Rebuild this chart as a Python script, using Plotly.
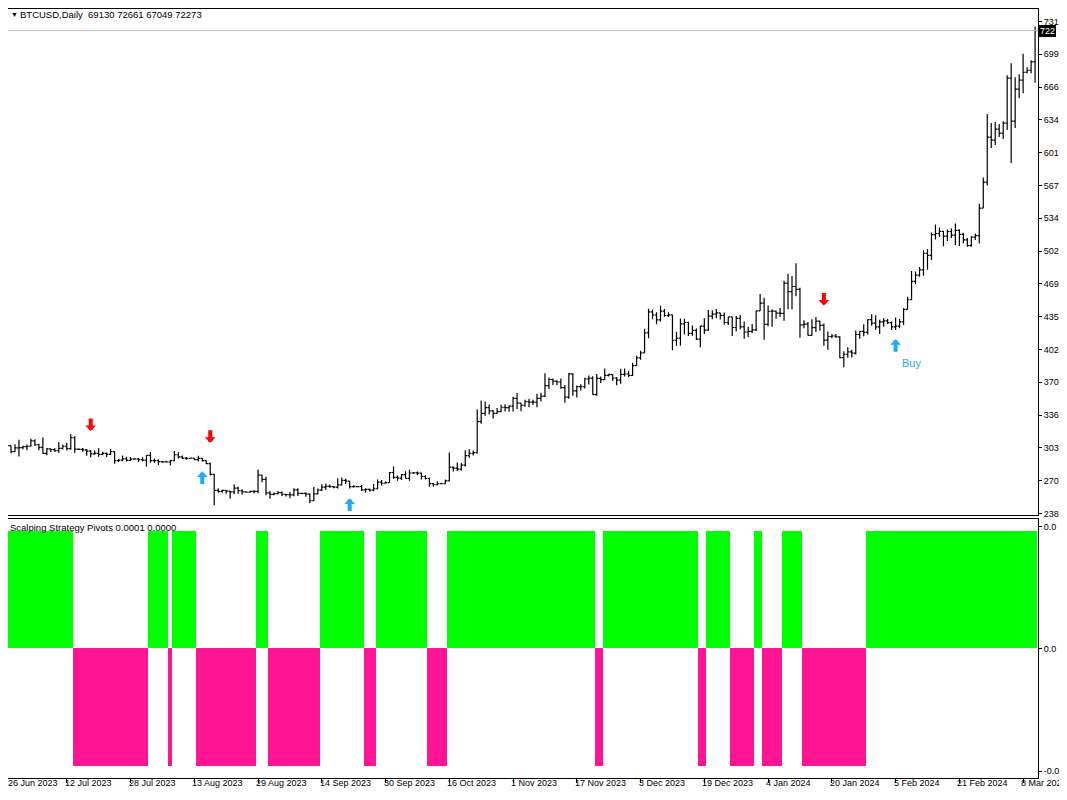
import pandas as pd
import plotly.graph_objects as go

# --- daily BTCUSD bars, 26 Jun 2023 .. 11 Mar 2024
dates = pd.date_range('2023-06-26', '2024-03-11', freq='D')

opens = [
    # Jun
    30470, 30270, 30690, 30080, 30450,
    # Jul
    30480, 30590, 30620, 31160, 30770, 30510, 29900, 30350, 30290, 30170, 30410,
    30620, 30390, 31470, 30330, 30300, 30250, 30140, 29860, 29910, 29800, 29910,
    29800, 30090, 29180, 29230, 29350, 29210, 29320, 29360, 29280,
    # Aug
    29230, 29700, 29180, 29180, 29070, 29050, 29040, 29180, 29770, 29560, 29430,
    29400, 29420, 29280, 29410, 29170, 28880, 27800, 26200, 26100, 26190, 26120,
    26050, 26430, 26160, 26050, 26010, 26090, 26100, 27720, 27300,
    # Sep
    25940, 25800, 25870, 25970, 25810, 25780, 25750, 26240, 25900, 25890, 25830,
    25160, 25840, 26220, 26530, 26600, 26570, 26530, 26750, 27210, 27130, 26570,
    26580, 26580, 26250, 26300, 26220, 26360, 27030, 26910,
    # Oct
    26970, 27990, 27500, 27430, 27780, 27410, 27940, 27960, 27930, 27590, 27390,
    26870, 26760, 26860, 26860, 27160, 28520, 28420, 28330, 28720, 29680, 29920,
    29990, 33090, 33920, 34500, 34160, 33910, 34090, 34530, 34500,
    # Nov
    34650, 35420, 34940, 34730, 35080, 35050, 35040, 35420, 35640, 36690, 37310,
    37140, 37060, 36500, 35550, 37880, 36160, 36590, 36580, 37360, 37450, 35800,
    37420, 37290, 37720, 37790, 37460, 37250, 37830, 37860,
    # Dec
    37720, 38690, 39470, 39980, 41980, 44080, 43770, 43290, 44170, 43720, 43790,
    41240, 41450, 42890, 43020, 41930, 42240, 41360, 42660, 42260, 43660, 43860,
    43990, 43740, 43020, 43580, 42520, 43440, 42580, 42070, 42140,
    # Jan
    42280, 44180, 44960, 42840, 44150, 44160, 43970, 43930, 46970, 46110, 46630,
    46340, 42780, 42850, 41730, 42510, 43150, 42740, 41260, 41620, 41670, 41580,
    39510, 39840, 40080, 39950, 41820, 42130, 42030, 43300, 42950,
    # Feb
    42580, 43080, 43190, 43000, 42580, 42660, 43090, 44340, 45300, 47150, 47770,
    48300, 49960, 49740, 51830, 51940, 52150, 51670, 52140, 51770, 52260, 51850,
    51300, 50730, 51570, 51730, 54480, 57080, 61600,
    # Mar
    61300, 62400, 62000, 63000, 67500, 63200, 66400, 67300, 68100, 68300, 69130,
]

highs = [
    30660, 31000, 30700, 30820, 31260,
    30660, 30790, 31380, 31330, 30880, 31500, 30450, 30380, 30430, 31030, 30800,
    30980, 31810, 31630, 30390, 30450, 30340, 30240, 30190, 30420, 30060, 29990,
    30350, 30100, 29350, 29690, 29570, 29530, 29410, 29450, 29520,
    29730, 30050, 29400, 29310, 29100, 29170, 29250, 30150, 30030, 29690, 29540,
    29460, 29440, 29660, 29440, 29220, 29000, 27850, 26400, 26270, 26220, 26130,
    26800, 26550, 26310, 26100, 26170, 26210, 28300, 27750, 27570,
    26130, 25980, 26130, 26090, 25860, 26030, 26420, 26410, 25940, 26000, 25880,
    26540, 26390, 26800, 26890, 26780, 26620, 27410, 27480, 27370, 27150, 26720,
    26620, 26730, 26410, 26380, 26830, 27300, 27240, 27090,
    28050, 28590, 27680, 27830, 28120, 28270, 28040, 28100, 27990, 27720, 27480,
    26940, 27100, 26970, 27290, 30000, 28600, 28990, 28940, 30210, 30330, 30200,
    34300, 35200, 35100, 34800, 34240, 34460, 34770, 34840, 34720,
    35580, 35960, 34940, 35270, 35380, 35280, 35880, 35990, 37930, 37520, 37400,
    37230, 37410, 36750, 37950, 37930, 36710, 36840, 37490, 37720, 37640, 37850,
    37620, 38410, 37880, 37820, 37570, 38380, 38420, 38150,
    38980, 39700, 40200, 42400, 44410, 44300, 44050, 44700, 44370, 44040, 43800,
    42100, 43430, 43400, 43090, 42720, 42430, 42700, 43450, 44280, 44240, 44370,
    44000, 44030, 43590, 43600, 43680, 43800, 43110, 42600, 42880,
    44180, 45880, 45500, 44730, 44340, 44220, 44480, 47200, 47900, 47690, 48970,
    46500, 43240, 43070, 43340, 43570, 43200, 42930, 42130, 41850, 41870, 41650,
    40130, 40540, 40280, 42210, 42200, 42840, 43310, 43850, 43740,
    43290, 43450, 43370, 43120, 43520, 43380, 44450, 45590, 48170, 48130, 48590,
    50270, 50370, 52040, 52830, 52550, 52180, 52350, 52470, 52950, 52370, 52010,
    51500, 51680, 51950, 54910, 57540, 63910, 63000,
    63100, 62900, 63200, 67800, 69000, 67600, 67900, 69950, 68600, 69300, 72661,
]

lows = [
    29930, 30230, 29920, 30050, 29600,
    30330, 30230, 30580, 30650, 30220, 29860, 29720, 30050, 30050, 29960, 30290,
    30200, 30260, 29940, 30250, 30080, 29660, 29520, 29770, 29560, 29720, 29530,
    29740, 28860, 29030, 29110, 29100, 29130, 29260, 29040, 29110,
    28600, 28960, 28960, 28750, 28960, 28980, 28700, 29110, 29380, 29330, 29270,
    29360, 29260, 29100, 29080, 28850, 27700, 24700, 25950, 25960, 25860, 25360,
    25800, 25860, 25780, 25980, 25970, 25880, 25920, 27000, 25700,
    25350, 25720, 25780, 25630, 25580, 25400, 25620, 25630, 25810, 25560, 24900,
    25130, 25780, 26130, 26230, 26470, 26410, 26390, 26680, 26840, 26380, 26490,
    26520, 26140, 25990, 26090, 26110, 26340, 26690, 26890,
    26950, 27330, 27160, 27250, 27380, 27170, 27860, 27710, 27300, 27300, 26560,
    26550, 26690, 26800, 26810, 27120, 28100, 28150, 28180, 28600, 29460, 29690,
    29890, 32880, 33670, 33800, 33400, 33880, 34050, 34100, 34070,
    34100, 34340, 34120, 34580, 34540, 34750, 34530, 35110, 35550, 36350, 36760,
    36720, 36370, 34980, 35370, 35670, 35510, 36200, 36400, 36800, 35780, 35690,
    36950, 37250, 37600, 37180, 36730, 36880, 37600, 37560,
    37650, 38650, 39280, 39980, 41430, 43350, 42840, 43110, 43590, 43570, 40250,
    40700, 40680, 41820, 41680, 41700, 41270, 40530, 41870, 42200, 43350, 43450,
    43310, 42830, 42780, 41660, 42110, 42340, 41400, 41560, 41970,
    42170, 44170, 41300, 42650, 42600, 43400, 43580, 43200, 44360, 44350, 45650,
    41500, 42450, 41720, 41720, 42060, 42200, 40680, 40280, 41450, 41500, 39430,
    38540, 39500, 39520, 39820, 41400, 41640, 41810, 42690, 42300,
    41880, 42590, 42880, 42270, 42260, 42450, 42780, 44330, 45250, 46850, 47600,
    47710, 48300, 49290, 51330, 51580, 50670, 51200, 51500, 50790, 50680, 50960,
    50600, 50600, 51290, 50930, 54470, 56740, 60500,
    60800, 61600, 61400, 62300, 59000, 62500, 65500, 66000, 68000, 68000, 67049,
]

closes = [
    30270, 30690, 30080, 30450, 30480,
    30590, 30620, 31160, 30770, 30510, 29900, 30350, 30290, 30170, 30410, 30620,
    30390, 31470, 30330, 30300, 30250, 30140, 29860, 29910, 29800, 29910, 29800,
    30090, 29180, 29230, 29350, 29210, 29320, 29360, 29280, 29230,
    29700, 29180, 29180, 29070, 29050, 29040, 29180, 29770, 29560, 29430, 29400,
    29420, 29280, 29410, 29170, 28880, 27800, 26200, 26100, 26190, 26120, 26050,
    26430, 26160, 26050, 26010, 26090, 26100, 27720, 27300, 25940,
    25800, 25870, 25970, 25810, 25780, 25750, 26240, 25900, 25890, 25830, 25160,
    25840, 26220, 26530, 26600, 26570, 26530, 26750, 27210, 27130, 26570, 26580,
    26580, 26250, 26300, 26220, 26360, 27030, 26910, 26970,
    27990, 27500, 27430, 27780, 27410, 27940, 27960, 27930, 27590, 27390, 26870,
    26760, 26860, 26860, 27160, 28520, 28420, 28330, 28720, 29680, 29920, 29990,
    33090, 33920, 34500, 34160, 33910, 34090, 34530, 34500, 34650,
    35420, 34940, 34730, 35080, 35050, 35040, 35420, 35640, 36690, 37310, 37140,
    37060, 36500, 35550, 37880, 36160, 36590, 36580, 37360, 37450, 35800, 37420,
    37290, 37720, 37790, 37460, 37250, 37830, 37860, 37720,
    38690, 39470, 39980, 41980, 44080, 43770, 43290, 44170, 43720, 43790, 41240,
    41450, 42890, 43020, 41930, 42240, 41360, 42660, 42260, 43660, 43860, 43990,
    43740, 43020, 43580, 42520, 43440, 42580, 42070, 42140, 42280,
    44180, 44960, 42840, 44150, 44160, 43970, 43930, 46970, 46110, 46630, 46340,
    42780, 42850, 41730, 42510, 43150, 42740, 41260, 41620, 41670, 41580, 39510,
    39840, 40080, 39950, 41820, 42130, 42030, 43300, 42950, 42580,
    43080, 43190, 43000, 42580, 42660, 43090, 44340, 45300, 47150, 47770, 48300,
    49960, 49740, 51830, 51940, 52150, 51670, 52140, 51770, 52260, 51850, 51300,
    50730, 51570, 51730, 54480, 57080, 61600, 61300,
    62400, 62000, 63000, 67500, 63200, 66400, 67300, 68100, 68300, 69130, 72273,
]

# signal arrows (tip position)
sell_dates = ['2023-07-18', '2023-08-17', '2024-01-18']
sell_prices = [32160, 30970, 44730]
buy_dates = ['2023-08-15', '2023-09-21', '2024-02-05']
buy_prices = [28080, 25380, 41340]
buy_label_date = '2024-02-05'
buy_label_price = 38940

# indicator: run lengths of alternating states, starting with +1 (green)
pivot_runs = [18, 19, 5, 1, 6, 15, 3, 13, 11, 3, 13, 5, 37, 2, 24, 2, 6, 6, 2, 5, 5, 16, 43]
pivot_level = 0.0001

# axis labels (as much of each label as the window shows)
price_ticks = [73190, 69903, 66616, 63329, 60042, 56755, 53468, 50181,
               46894, 43607, 40320, 37033, 33746, 30459, 27172, 23885]
price_tick_text = ['731', '699', '666', '634', '601', '567', '534', '502',
                   '469', '435', '402', '370', '336', '303', '270', '238']
pivot_ticks = [0.000104, 0, -0.000104]
pivot_tick_text = ['0.0', '0.0', '-0.0']
last_price = 72273
last_price_text = '722'
date_ticks = ['2023-06-26', '2023-07-12', '2023-07-28', '2023-08-13', '2023-08-29',
              '2023-09-14', '2023-09-30', '2023-10-16', '2023-11-01', '2023-11-17',
              '2023-12-03', '2023-12-19', '2024-01-04', '2024-01-20', '2024-02-05',
              '2024-02-21', '2024-03-08']
date_tick_text = ['26 Jun 2023', '12 Jul 2023', '28 Jul 2023', '13 Aug 2023', '29 Aug 2023',
                  '14 Sep 2023', '30 Sep 2023', '16 Oct 2023', '1 Nov 2023', '17 Nov 2023',
                  '3 Dec 2023', '19 Dec 2023', '4 Jan 2024', '20 Jan 2024', '5 Feb 2024',
                  '21 Feb 2024', '8 Mar 202']

# --- expand indicator runs
pivot_vals, pivot_cols = [], []
for k, n in enumerate(pivot_runs):
    up = (k % 2 == 0)
    pivot_vals += [pivot_level if up else -pivot_level] * n
    pivot_cols += ['#00FF00' if up else '#FF1493'] * n

# page body keeps an 8px margin, so the figure is sized to fit inside it
W, H = 1051, 784
FONT = 'Liberation Sans, Arial, sans-serif'
AXIS_X = 1034          # right price scale, px from left
MAIN = (0, 509)        # main window rows (px)
SUB = (513, 773)       # indicator window rows (px)


def py(px):
    # pixel row -> paper y
    return 1 - px / H


fig = go.Figure()

fig.add_trace(go.Ohlc(
    x=dates, open=opens, high=highs, low=lows, close=closes,
    increasing_line_color='black', decreasing_line_color='black',
    line_width=1.2, tickwidth=0.45, hoverinfo='skip',
    xaxis='x', yaxis='y'))

fig.add_trace(go.Bar(
    x=dates, y=pivot_vals, marker_color=pivot_cols, marker_line_width=0,
    width=86400000, hoverinfo='skip', xaxis='x2', yaxis='y2'))

x_range = ['2023-06-27 06:00', '2024-03-11 18:00']
common_x = dict(type='date', range=x_range, domain=[0, AXIS_X / W], showgrid=False,
                zeroline=False, showline=True, linecolor='black', linewidth=1, mirror=True,
                fixedrange=True)
common_y = dict(side='right', ticks='outside', ticklen=3, tickcolor='black',
                showgrid=False, zeroline=False, showline=True, linecolor='black',
                mirror=False, tickfont=dict(size=9), fixedrange=True)

fig.update_layout(
    width=W, height=H,
    margin=dict(l=0, r=0, t=0, b=0),
    paper_bgcolor='white', plot_bgcolor='white',
    showlegend=False,
    dragmode=False, hovermode=False,
    font=dict(family=FONT, size=9.5, color='black'),
    bargap=0,
    xaxis=dict(**common_x, anchor='y', showticklabels=False, ticks='',
               rangeslider=dict(visible=False)),
    yaxis=dict(**common_y, domain=[py(MAIN[1]), py(MAIN[0])], range=[23690, 74436],
               anchor='x', tickvals=price_ticks, ticktext=price_tick_text),
    xaxis2=dict(**common_x, anchor='y2', matches='x', showticklabels=False,
                tickvals=date_ticks, ticks='outside', ticklen=4, tickcolor='black'),
    yaxis2=dict(**common_y, domain=[py(SUB[1]), py(SUB[0])], range=[-0.00011, 0.00011],
                anchor='x2', tickvals=pivot_ticks, ticktext=pivot_tick_text),
)

# bid line + price box
fig.add_shape(type='line', xref='x domain', yref='y', x0=0, x1=1,
              y0=last_price, y1=last_price, line=dict(color='#C0C0C0', width=1))
fig.add_annotation(xref='paper', yref='y', x=(AXIS_X + 1) / W, y=last_price,
                   text=last_price_text, showarrow=False, xanchor='left', yanchor='middle',
                   bgcolor='black', font=dict(color='white', size=9), borderpad=1,
                   borderwidth=0)

# signal arrows
for d, p in zip(sell_dates, sell_prices):
    fig.add_annotation(x=d, y=p, xref='x', yref='y', text='', showarrow=True,
                       arrowhead=1, arrowsize=0.45, arrowwidth=4, arrowcolor='#FF0000',
                       ax=0, ay=-14)
for d, p in zip(buy_dates, buy_prices):
    fig.add_annotation(x=d, y=p, xref='x', yref='y', text='', showarrow=True,
                       arrowhead=1, arrowsize=0.45, arrowwidth=4, arrowcolor='#1EAAFF',
                       ax=0, ay=14)
fig.add_annotation(x=buy_label_date, y=buy_label_price, xref='x', yref='y', text='Buy',
                   showarrow=False, xanchor='left', yanchor='middle', xshift=4,
                   font=dict(color='#1EAAFF', size=11))

# window headers
fig.add_annotation(xref='paper', yref='paper', x=1 / W, y=py(6), text='\u25BC',
                   showarrow=False, xanchor='left', yanchor='middle', font=dict(size=7))
fig.add_annotation(xref='paper', yref='paper', x=10 / W, y=py(6),
                   text='BTCUSD,Daily  69130 72661 67049 72273',
                   showarrow=False, xanchor='left', yanchor='middle')
fig.add_annotation(xref='paper', yref='paper', x=0, y=py(521),
                   text='Scalping Strategy Pivots 0.0001 0.0000',
                   showarrow=False, xanchor='left', yanchor='middle')

# time scale labels, text starting at the tick like MT4
first_visible = pd.Timestamp(x_range[0])
label_style = dict(yref='paper', y=py(778), showarrow=False, xanchor='left',
                   yanchor='middle', borderpad=0, borderwidth=0, font=dict(size=9))
for d, t in zip(date_ticks, date_tick_text):
    if pd.Timestamp(d) < first_visible:
        # tick falls just left of the visible window: pin label to the left edge
        fig.add_annotation(x=0, xref='x2 domain', text=t, **label_style)
    else:
        fig.add_annotation(x=d, xref='x2', text=t, xshift=-2, **label_style)

fig.write_html('out.html')
